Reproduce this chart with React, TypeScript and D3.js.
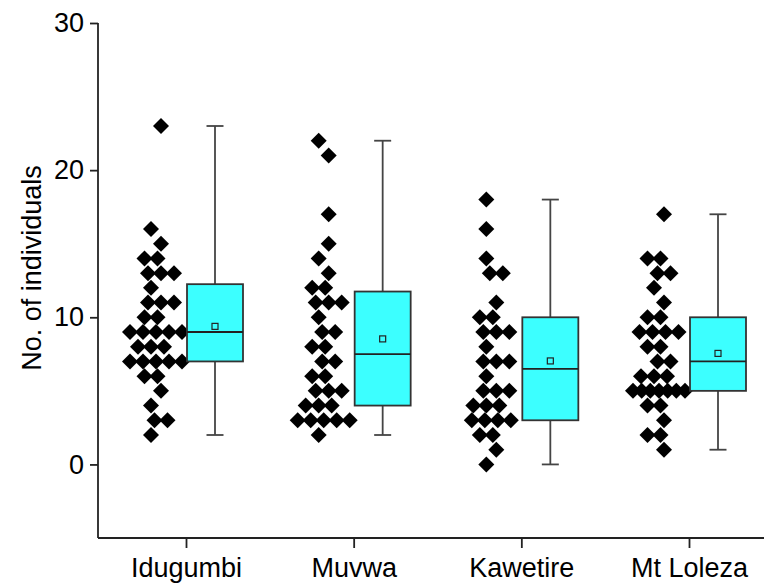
import React, { useEffect, useRef } from 'react'
import { select, scaleLinear, scalePoint, axisLeft, axisBottom, mean, min, max, ascending } from 'd3'

const categories = ['Idugumbi', 'Muvwa', 'Kawetire', 'Mt Loleza']
const idugumbi = [23, 16, 15, 14, 14, 13, 13, 13, 12, 11, 11, 11, 10, 10, 9, 9, 9, 9, 9, 8, 8, 8, 7, 7, 7, 7, 7, 6, 6, 5, 4, 3, 3, 2]
const muvwa = [22, 21, 17, 15, 14, 13, 12, 12, 11, 11, 11, 10, 9, 9, 8, 8, 7, 7, 6, 6, 5, 5, 5, 4, 4, 4, 3, 3, 3, 3, 3, 2]
const kawetire = [18, 16, 14, 13, 13, 11, 10, 10, 9, 9, 9, 8, 7, 7, 7, 6, 5, 5, 5, 4, 4, 4, 3, 3, 3, 3, 2, 2, 1, 0]
const mtLoleza = [17, 14, 14, 13, 13, 12, 11, 10, 10, 9, 9, 9, 9, 8, 8, 7, 7, 6, 6, 6, 5, 5, 5, 5, 5, 5, 5, 4, 4, 3, 2, 2, 1]
const yTicks = [0, 10, 20, 30]

const series = [idugumbi, muvwa, kawetire, mtLoleza]

const W = 764
const H = 584
const left = 98
const top = 23
const bottom = 538
const boxW = 56
const font = 'Arial, "Liberation Sans", sans-serif'

// quartiles the (n+1)p way, like Origin does
function quant(sorted: number[], p: number) {
  const n = sorted.length
  const pos = (n + 1) * p
  if (pos <= 1) return sorted[0]
  if (pos >= n) return sorted[n - 1]
  const lo = Math.floor(pos)
  return sorted[lo - 1] + (pos - lo) * (sorted[lo] - sorted[lo - 1])
}

// spread equal values sideways so they don't sit on top of each other
function swarm(values: number[]) {
  const counts = new Map<number, number>()
  values.forEach(v => counts.set(v, (counts.get(v) || 0) + 1))
  const seen = new Map<number, number>()
  return values.map(v => {
    const k = counts.get(v) as number
    const i = seen.get(v) || 0
    seen.set(v, i + 1)
    const s = k > 1 ? Math.min(13, 52 / (k - 1)) : 0
    const shift = k < 4 ? (v % 2 === 0 ? -5 : 5) : 0
    return { v, dx: (i - (k - 1) / 2) * s + shift }
  })
}

const y = scaleLinear().domain([-5, 30]).range([bottom, top])
const x = scalePoint<string>().domain(categories).range([186, 689])

export default function App() {
  const xRef = useRef<SVGGElement>(null)
  const yRef = useRef<SVGGElement>(null)

  useEffect(() => {
    const ya = axisLeft(y).tickValues(yTicks).tickSize(8).tickSizeOuter(0).tickPadding(6)
    const gy = select(yRef.current).call(ya as any)
    gy.select('.domain').remove()
    gy.selectAll('line').attr('stroke', '#222').attr('stroke-width', 1.8)
    gy.selectAll('text').attr('font-size', 27).attr('font-family', font).attr('fill', '#000')

    const xa = axisBottom(x).tickSize(10).tickSizeOuter(0).tickPadding(10)
    const gx = select(xRef.current).call(xa as any)
    gx.select('.domain').remove()
    gx.selectAll('line').attr('stroke', '#222').attr('stroke-width', 1.8)
    gx.selectAll('text').attr('font-size', 27).attr('font-family', font).attr('fill', '#000')
  }, [])

  return (
    <svg width={W} height={H} style={{ position: 'absolute', left: 0, top: 0, background: '#fff' }}>
      {categories.map((c, ci) => {
        const vals = series[ci]
        const sorted = vals.slice().sort(ascending)
        const cx = (x(c) as number) + 29
        const sx = (x(c) as number) - 30
        const q1 = quant(sorted, 0.25)
        const q3 = quant(sorted, 0.75)
        const med = quant(sorted, 0.5)
        const lo = min(vals) as number
        const hi = max(vals) as number
        const m = mean(vals) as number
        return (
          <g key={c}>
            {swarm(vals).map((p, i) => (
              <path key={i} d="M0,-8L8,0L0,8L-8,0Z" fill="#000"
                transform={`translate(${sx + p.dx},${y(p.v)})`} />
            ))}
            <line x1={cx} x2={cx} y1={y(q3)} y2={y(hi)} stroke="#444" strokeWidth={1.8} />
            <line x1={cx} x2={cx} y1={y(q1)} y2={y(lo)} stroke="#444" strokeWidth={1.8} />
            <line x1={cx - 8.5} x2={cx + 8.5} y1={y(hi)} y2={y(hi)} stroke="#444" strokeWidth={1.8} />
            <line x1={cx - 8.5} x2={cx + 8.5} y1={y(lo)} y2={y(lo)} stroke="#444" strokeWidth={1.8} />
            <rect x={cx - boxW / 2} width={boxW} y={y(q3)} height={y(q1) - y(q3)}
              fill="#3cffff" stroke="#333" strokeWidth={1.8} />
            <line x1={cx - boxW / 2} x2={cx + boxW / 2} y1={y(med)} y2={y(med)} stroke="#222" strokeWidth={1.8} />
            <rect x={cx - 3} y={y(m) - 3} width={6} height={6} fill="#3cffff" stroke="#222" strokeWidth={1.2} />
          </g>
        )
      })}
      <g ref={yRef} transform={`translate(${left},0)`} />
      <g ref={xRef} transform={`translate(0,${bottom})`} />
      <line x1={left} x2={left} y1={top} y2={bottom} stroke="#222" strokeWidth={1.8} />
      <line x1={left} x2={W} y1={bottom} y2={bottom} stroke="#222" strokeWidth={1.8} />
      <text transform={`translate(41,268) rotate(-90)`} textAnchor="middle" fontSize={27}
        fontFamily={font} fill="#000">No. of individuals</text>
    </svg>
  )
}
